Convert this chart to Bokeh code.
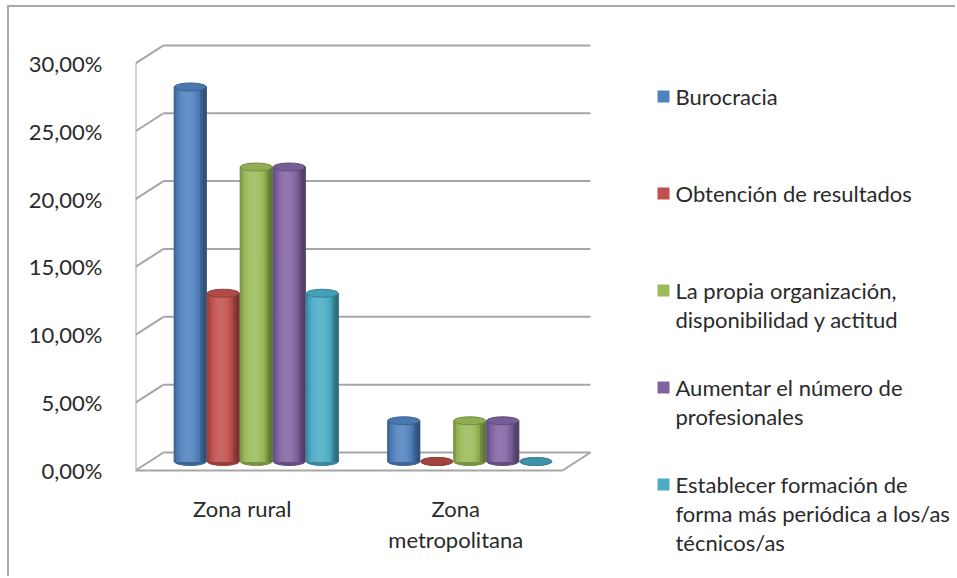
import math
from bokeh.plotting import figure
from bokeh.models import FixedTicker, Range1d, ColumnDataSource
from bokeh.core.properties import value
from bokeh.embed import file_html
from bokeh.resources import INLINE

# ---------------- data ----------------
categories = ["Zona rural", "Zona metropolitana"]
category_lines = [["Zona rural"], ["Zona", "metropolitana"]]

series_names = [
    "Burocracia",
    "Obtención de resultados",
    "La propia organización, disponibilidad y actitud",
    "Aumentar el número de profesionales",
    "Establecer formación de forma más periódica a los/as técnicos/as",
]
legend_lines = [
    ["Burocracia"],
    ["Obtención de resultados"],
    ["La propia organización,", "disponibilidad y actitud"],
    ["Aumentar el número  de", "profesionales"],
    ["Establecer formación de", "forma más periódica a los/as", "técnicos/as"],
]

burocracia = [27.6, 3.0]
obtencion = [12.4, 0.0]
organizacion = [21.7, 3.0]
profesionales = [21.7, 3.0]
formacion = [12.4, 0.0]
series_values = [burocracia, obtencion, organizacion, profesionales, formacion]

y_ticks = [0, 5, 10, 15, 20, 25, 30]
y_tick_labels = ["0,00%", "5,00%", "10,00%", "15,00%", "20,00%", "25,00%", "30,00%"]

colors = ["#4f81bd", "#c0504d", "#9bbb59", "#8064a2", "#4bacc6"]

# ---------------- layout constants ----------------
OX, OY = 9, 7                 # canvas offset on the page (margin + border)
W, H = 957 - OX, 578 - OY
FRAME_L, FRAME_T, FRAME_R, FRAME_B = 135, 7, 957, 578   # page px
ZERO_Y = 470                  # page y of 0% on the front plane
PX_X = 213.5                  # px per category
PX_Y = 13.57                  # px per 1%
DX = 28 / PX_X                # depth offset (data units)
DY = 18 / PX_Y
BAR_STEP = 33 / PX_X
BAR_W = 32 / PX_X
FONT = value("Lato")
FS = "22px"
TXT = "#2a2a2a"
GRID = "#a6a6a6"


def dxp(px):
    return (px - FRAME_L) / PX_X


def dyp(py):
    return (ZERO_Y - py) / PX_Y


def shade(hexc, f):
    r, g, b = int(hexc[1:3], 16), int(hexc[3:5], 16), int(hexc[5:7], 16)
    if f <= 1:
        r, g, b = r * f, g * f, b * f
    else:
        k = f - 1
        r, g, b = r + (255 - r) * k, g + (255 - g) * k, b + (255 - b) * k
    return "#%02x%02x%02x" % (int(max(0, min(255, r))), int(max(0, min(255, g))), int(max(0, min(255, b))))


n_cat = len(categories)
p = figure(
    width=W, height=H, output_backend="svg", toolbar_location=None,
    x_range=Range1d(0, (FRAME_R - FRAME_L) / PX_X),
    y_range=Range1d(dyp(FRAME_B), dyp(FRAME_T)),
    x_axis_location=None,
    min_border_left=FRAME_L - OX, min_border_right=0,
    min_border_top=0, min_border_bottom=0,
)
p.styles = {
    "margin-left": "7px", "margin-top": "5px",
    "border-left": "2px solid #a9a9a9", "border-top": "2px solid #a9a9a9",
}
p.outline_line_color = None
p.xgrid.visible = False
p.ygrid.visible = False
p.background_fill_color = "white"
p.border_fill_color = "white"

# y axis
ya = p.yaxis[0]
ya.ticker = FixedTicker(ticks=y_ticks)
ya.major_label_overrides = {t: lab for t, lab in zip(y_ticks, y_tick_labels)}
ya.axis_line_color = None
ya.major_tick_line_color = None
ya.minor_tick_line_color = None
ya.major_label_standoff = 27
ya.major_label_text_font = "Lato"
ya.major_label_text_font_size = FS
ya.major_label_text_color = TXT

# ---------------- 3D walls ----------------
top_v = y_ticks[-1]
x0s, y0s, x1s, y1s = [], [], [], []
x0s.append(0); y0s.append(0); x1s.append(0); y1s.append(top_v)
for t in y_ticks:
    x0s.append(0); y0s.append(t); x1s.append(DX); y1s.append(t + DY)
    x0s.append(DX); y0s.append(t + DY); x1s.append(n_cat + DX); y1s.append(t + DY)
x0s.append(0); y0s.append(0); x1s.append(n_cat); y1s.append(0)
x0s.append(n_cat); y0s.append(0); x1s.append(n_cat + DX); y1s.append(DY)
p.segment(x0=x0s, y0=y0s, x1=x1s, y1=y1s, line_color=GRID, line_width=2)

# ---------------- cylinders ----------------
NS = 12
body = dict(x=[], top=[], bottom=[], color=[])
strip = dict(x=[], top=[], bottom=[], width=[], color=[])
caps_b = dict(x=[], y=[], color=[])
caps_t = dict(x=[], y=[], color=[], line=[])
base = DY / 2
for j, vals in enumerate(series_values):
    c = colors[j]
    for i, v in enumerate(vals):
        xc = i + 0.5 + (j - 2) * BAR_STEP + DX / 2
        caps_b["x"].append(xc); caps_b["y"].append(base); caps_b["color"].append(shade(c, 0.78))
        if v > 0:
            body["x"].append(xc); body["top"].append(v + base); body["bottom"].append(base)
            body["color"].append(shade(c, 0.9))
            for k in range(NS):
                t = (k + 0.5) / NS
                s = math.sin(math.pi * min(1.0, t * 1.12)) ** 0.55
                f = 0.64 + 0.5 * s
                strip["x"].append(xc + (t - 0.5) * BAR_W)
                strip["top"].append(v + base)
                strip["bottom"].append(base)
                strip["width"].append(BAR_W / NS)
                strip["color"].append(shade(c, f))
        caps_t["x"].append(xc); caps_t["y"].append(v + base)
        caps_t["color"].append(shade(c, 0.93) if v > 0 else shade(c, 0.85))
        caps_t["line"].append(shade(c, 0.75))

p.ellipse(x="x", y="y", width=32, height=8, width_units="screen", height_units="screen",
          source=ColumnDataSource(caps_b), fill_color="color", line_color="color")
p.vbar(x="x", top="top", bottom="bottom", width=BAR_W, source=ColumnDataSource(body),
       fill_color="color", line_color=None)
p.vbar(x="x", top="top", bottom="bottom", width="width", source=ColumnDataSource(strip),
       fill_color="color", line_color="color", line_width=1.2)
p.ellipse(x="x", y="y", width=32, height=8, width_units="screen", height_units="screen",
          source=ColumnDataSource(caps_t), fill_color="color", line_color="line", line_width=1)

# ---------------- category labels ----------------
cx, cy, ct = [], [], []
for i, lines in enumerate(category_lines):
    for li, line in enumerate(lines):
        cx.append(i + 0.5)
        cy.append(dyp(508 + li * 31))
        ct.append(line)
p.text(x=cx, y=cy, text=ct, text_font=FONT, text_font_size=FS, text_color=TXT,
       text_align="center", text_baseline="middle")

# ---------------- legend ----------------
lx, ly, lt = [], [], []
sx, sy = [], []
for j, lines in enumerate(legend_lines):
    y0 = 96 + 97 * j
    sx.append(dxp(663)); sy.append(dyp(y0))
    for li, line in enumerate(lines):
        lx.append(dxp(675)); ly.append(dyp(y0 + 29 * li)); lt.append(line)
p.scatter(x=sx, y=sy, marker="square", size=12, fill_color=colors, line_color=None)
p.text(x=lx, y=ly, text=lt, text_font=FONT, text_font_size=FS, text_color=TXT,
       text_align="left", text_baseline="middle")

open("out.html", "w").write(file_html(p, INLINE))
